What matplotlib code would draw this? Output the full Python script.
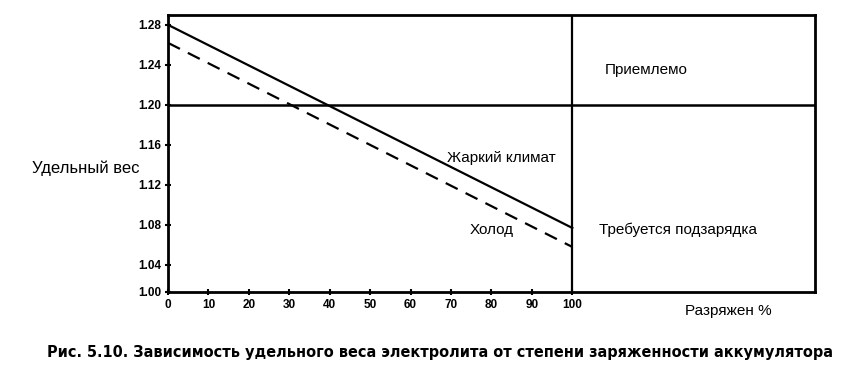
import numpy as np
import matplotlib
matplotlib.use("Agg")
import matplotlib.pyplot as plt

# data
discharge = [0, 100]
hot_climate = [1.28, 1.077]
cold = [1.262, 1.058]
x_ticks = [0, 10, 20, 30, 40, 50, 60, 70, 80, 90, 100]
y_ticks = [1.00, 1.04, 1.08, 1.12, 1.16, 1.20, 1.24, 1.28]
threshold = 1.20
full_discharge = 100

# the scan has the bottom interval (1.00-1.04) squeezed
def fwd(y):
    y = np.asarray(y, dtype=float)
    return np.where(y < 1.04, 1.04 - (1.04 - y) * 0.675, y)

def inv(y):
    y = np.asarray(y, dtype=float)
    return np.where(y < 1.04, 1.04 - (1.04 - y) / 0.675, y)

plt.rcParams['font.family'] = ['Liberation Sans', 'DejaVu Sans']

fig = plt.figure(figsize=(8.66, 3.71), dpi=100)
ax = fig.add_axes([0.194, 0.213, 0.747, 0.747])
ax.set_yscale('function', functions=(fwd, inv))

ax.plot(discharge, hot_climate, color='black', lw=1.6)
ax.plot(discharge, cold, color='black', lw=1.6, ls=(0, (6, 4)))
ax.axhline(threshold, color='black', lw=1.8)
ax.axvline(full_discharge, color='black', lw=1.6)

ax.set_xlim(0, 160)
ax.set_ylim(1.00, 1.29)
ax.set_xticks(x_ticks)
ax.set_yticks(y_ticks)
ax.set_xticklabels([str(t) for t in x_ticks])
ax.set_yticklabels([f'{t:.2f}' for t in y_ticks])
ax.tick_params(direction='inout', length=4, width=1.5, labelsize=8.5, pad=3)
for lab in ax.get_xticklabels() + ax.get_yticklabels():
    lab.set_fontweight('bold')
for s in ax.spines.values():
    s.set_linewidth(2)

ax.text(108, 1.235, 'Приемлемо', fontsize=11, va='center')
ax.text(106.5, 1.075, 'Требуется подзарядка', fontsize=11, va='center')
ax.text(69, 1.147, 'Жаркий климат', fontsize=11, va='center')
ax.text(74.5, 1.075, 'Холод', fontsize=11, va='center')

fig.text(32 / 866, 1 - 168 / 371, 'Удельный вес', fontsize=12, va='center')
fig.text(685 / 866, 1 - 311 / 371, 'Разряжен %', fontsize=11, va='center')
fig.text(440 / 866, 1 - 352 / 371,
         'Рис. 5.10. Зависимость удельного веса электролита от степени заряженности аккумулятора',
         fontsize=11.6, fontweight='bold', fontstretch='condensed',
         family=['DejaVu Sans'], ha='center', va='center')

fig.savefig('out.png', dpi=100)
